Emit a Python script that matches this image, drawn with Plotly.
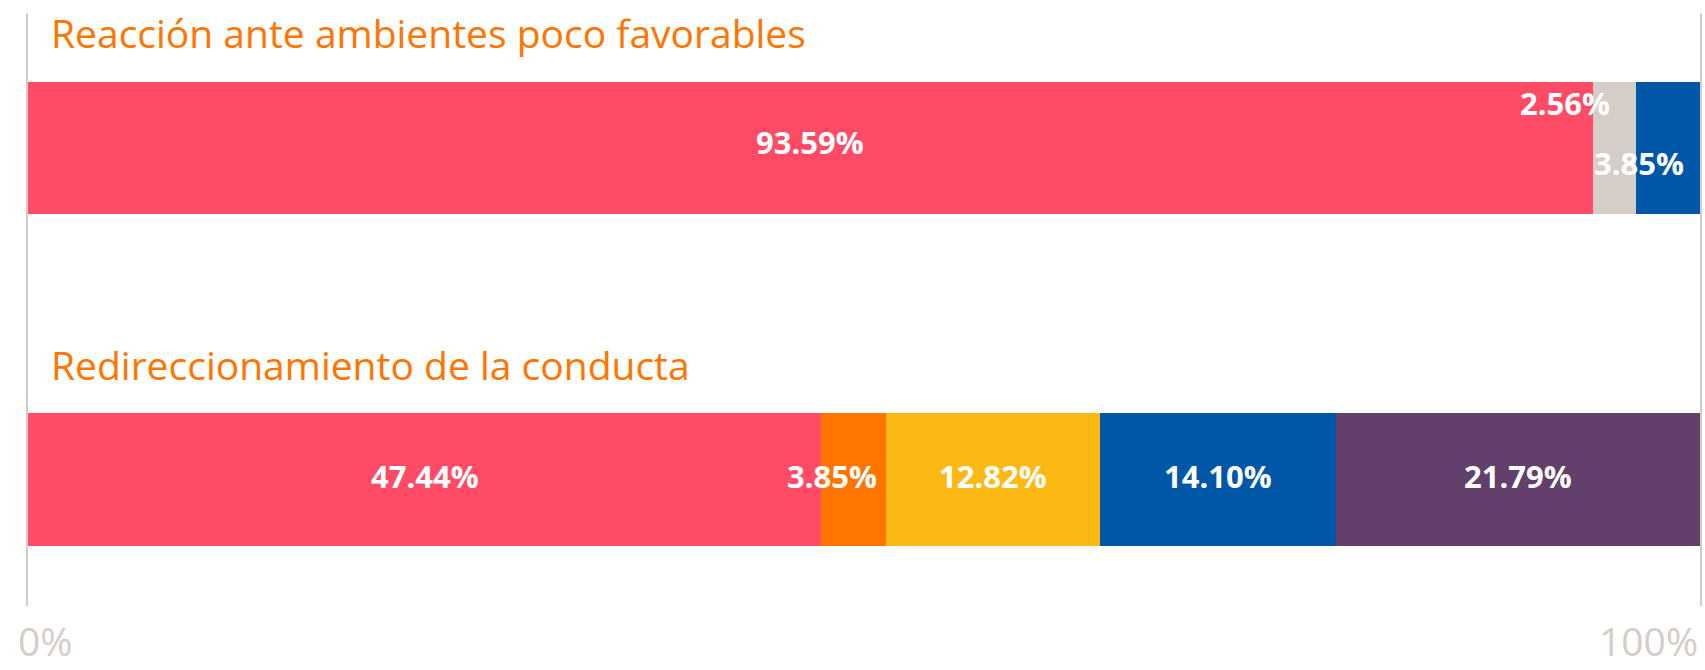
import plotly.graph_objects as go

# ---- data ----
row_titles = ["Reacción ante ambientes poco favorables", "Redireccionamiento de la conducta"]
row_positions = [2, 1]
row1_values = [93.59, 2.56, 3.85]
row1_colors = ["#FF4B66", "#D5CDC8", "#0057A8"]
row2_values = [47.44, 3.85, 12.82, 14.10, 21.79]
row2_colors = ["#FF4B66", "#FF7500", "#FDB913", "#0057A8", "#633F6C"]
tick_values = [0, 100]
tick_labels = ["0%", "100%"]

# label placement tweaks (xanchor, xshift, yshift) for narrow segments
row1_label_style = [("center", 0, 6), ("right", -24, 45), ("right", -14, -15)]
row2_label_style = [("center", 0, 4), ("right", -7, 4), ("center", 0, 4), ("center", 0, 4), ("center", 0, 4)]

rows = [
    (row1_values, row1_colors, row1_label_style),
    (row2_values, row2_colors, row2_label_style),
]

FONT = "Open Sans"
BAR_W = 0.401

fig = go.Figure()
annotations = []
for (vals, cols, styles), ypos, title in zip(rows, row_positions, row_titles):
    cum = 0.0
    for v, c, (xa, xs, ys) in zip(vals, cols, styles):
        fig.add_trace(go.Bar(
            x=[v], y=[ypos], orientation="h", width=BAR_W,
            marker=dict(color=c, line=dict(width=0)),
            hoverinfo="skip", showlegend=False,
        ))
        xpos = cum + v / 2 if xa == "center" else cum + v
        annotations.append(dict(
            x=xpos, y=ypos, xref="x", yref="y", text=f"{v:.2f}%",
            showarrow=False, xanchor=xa, yanchor="middle", xshift=xs, yshift=ys,
            font=dict(family=FONT, size=31, color="white", weight="bold"),
        ))
        cum += v
    annotations.append(dict(
        x=0, y=ypos + 0.348, xref="x", yref="y", text=title, showarrow=False,
        xanchor="left", yanchor="middle", xshift=21,
        font=dict(family=FONT, size=39, color="#FF7500"),
    ))

for tv, tl in zip(tick_values, tick_labels):
    annotations.append(dict(
        x=tv, y=0, xref="x", yref="paper", text=tl, showarrow=False,
        xanchor="left" if tv == 0 else "right", yanchor="bottom",
        xshift=-12 if tv == 0 else 0, yshift=-63,
        font=dict(family=FONT, size=39, color="#D5CDC8"),
    ))

fig.update_layout(
    width=1705, height=670,
    margin=dict(l=28, r=3, t=13, b=64),
    barmode="stack",
    plot_bgcolor="white", paper_bgcolor="white",
    annotations=annotations,
    xaxis=dict(range=[0, 100], showgrid=False, zeroline=False, showticklabels=False,
               showline=False, fixedrange=True),
    yaxis=dict(range=[0.6184, 2.4072], showgrid=False, zeroline=False, showticklabels=False,
               showline=True, mirror=True, linecolor="#D5CDC8", linewidth=2, fixedrange=True),
)

fig.write_html("out.html", config={"displayModeBar": False},
               post_script="document.body.style.margin='0';document.body.style.overflow='hidden';")
